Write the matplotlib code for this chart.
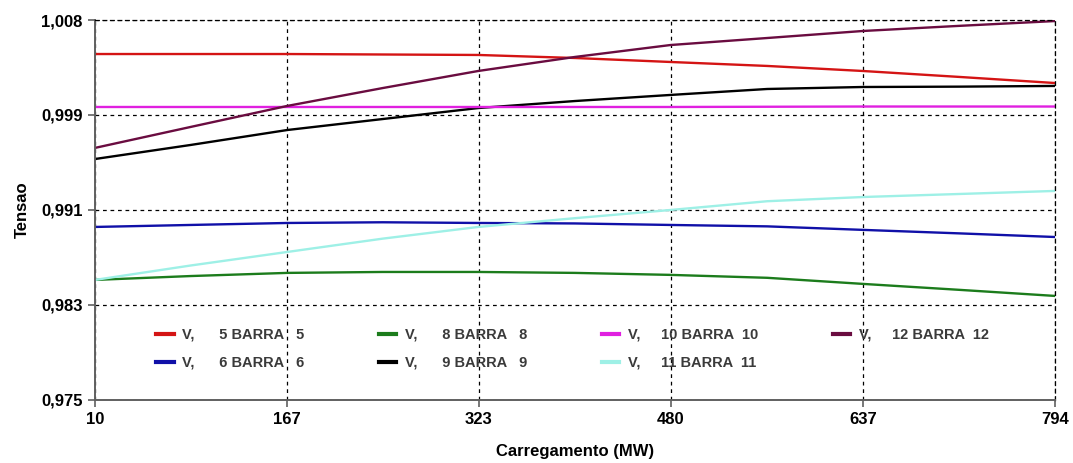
import matplotlib
matplotlib.use('Agg')
import matplotlib.pyplot as plt
from matplotlib.ticker import FixedLocator

plt.rcParams['font.family'] = ['Liberation Sans', 'DejaVu Sans']

# ── Data ──────────────────────────────────────────────────────────────────────
carga = [10, 88, 167, 245, 323, 402, 480, 559, 637, 716, 794]

v5  = [1.00459, 1.00459, 1.00459, 1.00455, 1.00451, 1.00425, 1.00391, 1.00357, 1.00314, 1.00263, 1.00211]
v6  = [0.98980, 0.98997, 0.99014, 0.99020, 0.99014, 0.99010, 0.98997, 0.98985, 0.98955, 0.98925, 0.98894]
v8  = [0.98527, 0.98560, 0.98587, 0.98595, 0.98595, 0.98587, 0.98570, 0.98545, 0.98493, 0.98442, 0.98390]
v9  = [0.99561, 0.99681, 0.99809, 0.99903, 0.99997, 1.00057, 1.00109, 1.00160, 1.00177, 1.00180, 1.00186]
v10 = [1.00006, 1.00006, 1.00006, 1.00006, 1.00006, 1.00006, 1.00006, 1.00008, 1.00010, 1.00010, 1.00010]
v11 = [0.98527, 0.98650, 0.98766, 0.98880, 0.98980, 0.99055, 0.99125, 0.99200, 0.99236, 0.99262, 0.99288]
v12 = [0.99656, 0.99835, 1.00015, 1.00168, 1.00314, 1.00434, 1.00536, 1.00596, 1.00656, 1.00700, 1.00741]

labels = ['V,      5 BARRA   5', 'V,      6 BARRA   6',
          'V,      8 BARRA   8', 'V,      9 BARRA   9',
          'V,     10 BARRA  10', 'V,     11 BARRA  11',
          'V,     12 BARRA  12']
series = [v5, v6, v8, v9, v10, v11, v12]
colors = ['#d41414', '#1010a8', '#1c7c1c', '#000000', '#e020e0', '#9ef0e6', '#6a0c40']

xtick_vals = [10, 166.8, 323.6, 480.4, 637.2, 794]
xtick_lbls = ['10', '167', '323', '480', '637', '794']
ytick_vals = [0.975, 0.983125, 0.99125, 0.999375, 1.0075]
ytick_lbls = ['0,975', '0,983', '0,991', '0,999', '1,008']

# ── Figure ────────────────────────────────────────────────────────────────────
fig = plt.figure(figsize=(10.73, 4.63), dpi=100)
ax = fig.add_axes([0.0885, 0.1361, 0.8947, 0.8207])

for y, c, lab in zip(series, colors, labels):
    ax.plot(carga, y, color=c, linewidth=1.7, label=lab)

ax.set_xlim(10, 794)
ax.set_ylim(0.975, 1.0075)
ax.xaxis.set_major_locator(FixedLocator(xtick_vals))
ax.yaxis.set_major_locator(FixedLocator(ytick_vals))
ax.set_xticklabels(xtick_lbls, fontsize=12, fontweight='bold')
ax.set_yticklabels(ytick_lbls, fontsize=12, fontweight='bold')
ax.tick_params(direction='out', length=5, width=1.2, color='#606060', pad=4)

ax.grid(True, color='black', linestyle=(0, (3, 3)), linewidth=0.9)
for s in ['top', 'right']:
    ax.spines[s].set_linestyle((0, (3, 3)))
    ax.spines[s].set_linewidth(0.9)
for s in ['left', 'bottom']:
    ax.spines[s].set_color('#606060')
    ax.spines[s].set_linewidth(1.4)

ax.set_xlabel('Carregamento (MW)', fontsize=12, fontweight='bold', labelpad=12)
ax.set_ylabel('Tensao', fontsize=12, fontweight='bold')
ax.yaxis.set_label_coords(-0.068, 0.5)

leg = ax.legend(ncol=4, loc='lower left', bbox_to_anchor=(0.05, 0.045),
                frameon=False, handlelength=1.2, handletextpad=0.6,
                columnspacing=5.1, labelspacing=0.95,
                prop={'size': 10.5, 'weight': 'bold'})
for t in leg.get_texts():
    t.set_color('#3a3a3a')
for h in leg.legend_handles:
    h.set_linewidth(3)

fig.savefig('out.png', dpi=100)
